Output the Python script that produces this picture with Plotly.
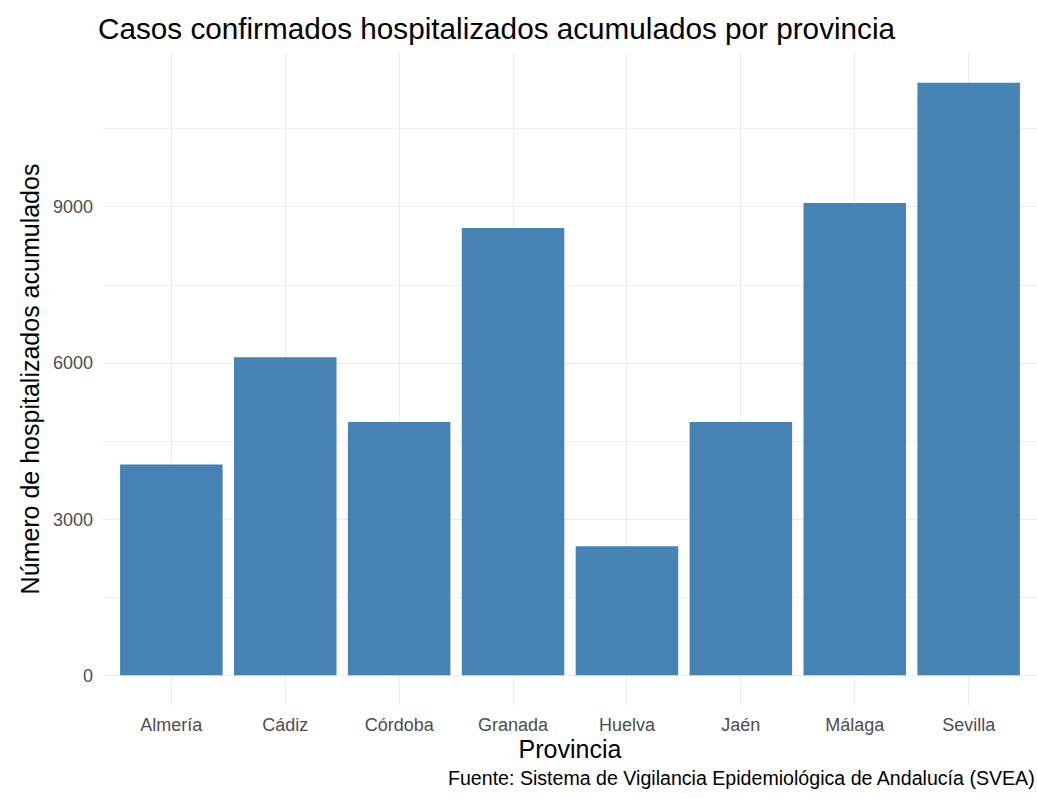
import plotly.graph_objects as go

provincias = ["Almería", "Cádiz", "Córdoba", "Granada", "Huelva", "Jaén", "Málaga", "Sevilla"]
hospitalizados = [4050, 6110, 4870, 8595, 2482, 4870, 9075, 11388]
y_ticks = [0, 3000, 6000, 9000]

title_text = "Casos confirmados hospitalizados acumulados por provincia"
x_title = "Provincia"
y_title = "Número de hospitalizados acumulados"
caption = "Fuente: Sistema de Vigilancia Epidemiológica de Andalucía (SVEA)"

FONT = "Liberation Sans, Arial, sans-serif"

fig = go.Figure(go.Bar(
    x=provincias, y=hospitalizados, width=0.9,
    marker=dict(color="#4682b4", line=dict(width=0)),
))

ymax = max(hospitalizados)
fig.update_layout(
    width=1037, height=798,
    margin=dict(l=103, r=0, t=53, b=93),
    paper_bgcolor="white", plot_bgcolor="white",
    font=dict(family=FONT),
    title=dict(text=title_text, x=98/1037, xanchor="left", y=1-29/798, yanchor="middle",
               font=dict(size=29.7, color="black", family=FONT)),
    showlegend=False,
    xaxis=dict(range=[-0.6, len(provincias) - 0.4], showgrid=True, gridcolor="#ebebeb", gridwidth=1,
               zeroline=False, showline=False, ticks="", ticklabelstandoff=7,
               tickfont=dict(size=18, color="#4d4d4d"),
               title=dict(text=x_title, font=dict(size=25, color="black"), standoff=0)),
    yaxis=dict(range=[-0.05 * ymax, 1.05 * ymax], tickvals=y_ticks, showgrid=True,
               gridcolor="#ebebeb", gridwidth=1, zeroline=False, showline=False, ticks="",
               ticklabelstandoff=9,
               tickfont=dict(size=18, color="#4d4d4d"),
               minor=dict(dtick=1500, tick0=0, showgrid=True, gridcolor="#f0f0f0", gridwidth=1),
               title=dict(text=y_title, font=dict(size=25, color="black"), standoff=6)),
    annotations=[dict(text=caption, xref="paper", yref="paper", x=1, y=-(778 - 705) / 652,
                      xanchor="right", yanchor="middle", showarrow=False,
                      font=dict(size=19.6, color="black"))],
)

fig.write_html("out.html", config={"displayModeBar": False},
               post_script="document.body.style.margin='0';")
